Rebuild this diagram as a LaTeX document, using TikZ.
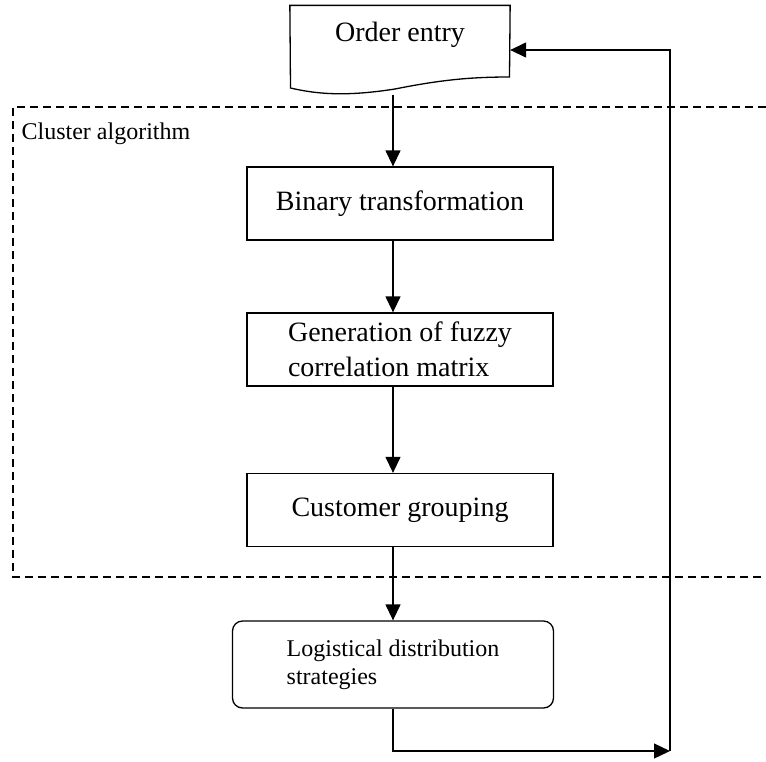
\documentclass[tikz,border=0pt]{standalone}
\usepackage{fontspec}
\setmainfont{Liberation Serif}
\usetikzlibrary{arrows.meta}

\begin{document}
\begin{tikzpicture}[x=1pt,y=-1pt,line width=1.3pt,
  box/.style={draw,minimum width=306pt,minimum height=73pt,align=left,inner sep=0pt,font=\fontsize{28}{35}\selectfont},
  rbox/.style={draw,rounded corners=10pt,minimum width=321pt,minimum height=87pt,align=left,inner sep=0pt,font=\fontsize{24}{28}\selectfont},
  flow/.style={-{Triangle[length=16pt,width=15pt]}},
  frame/.style={dash pattern=on 8pt off 5pt,line width=2pt}]
\useasboundingbox (0,0) rectangle (766,761);

\draw[frame] (766,107) -| (13,577) -- (766,577);
\node[anchor=west,inner sep=0pt,font=\fontsize{24}{28}\selectfont] (clu) at (21,134) {Cluster algorithm};

% order entry, document shape
\node[minimum width=219pt,inner sep=0pt,text height=35pt,text depth=53pt,font=\fontsize{28}{35}\selectfont] (order) at (400,50) {Order entry};
\draw (order.north west) -- (order.north east) -- (509.5,77) .. controls (470,77) and (440,80) .. (395,89) .. controls (350,96) and (320,95) .. (290.5,88) -- cycle;

\node[box] (bin) at (400,203.5) {Binary transformation};
\node[box] (gen) at (400,349.5) {Generation of fuzzy\\correlation matrix};
\node[box] (cust) at (400,510) {Customer grouping};
\node[rbox] (logi) at (393,664.5) {Logistical distribution\\strategies};

\draw[flow] ([xshift=-7pt]order.south) -- ([xshift=-7pt]bin.north);
\draw[flow] ([xshift=-7pt]bin.south) -- ([xshift=-7pt]gen.north);
\draw[flow] ([xshift=-7pt]gen.south) -- ([xshift=-7pt]cust.north);
\draw[flow] ([xshift=-7pt]cust.south) -- (logi.north);

% feedback loop
\coordinate (fb) at (670,751);
\draw[flow] (logi.south) |- (fb);
\draw[flow] (fb) |- (order.east);

\end{tikzpicture}
\end{document}
